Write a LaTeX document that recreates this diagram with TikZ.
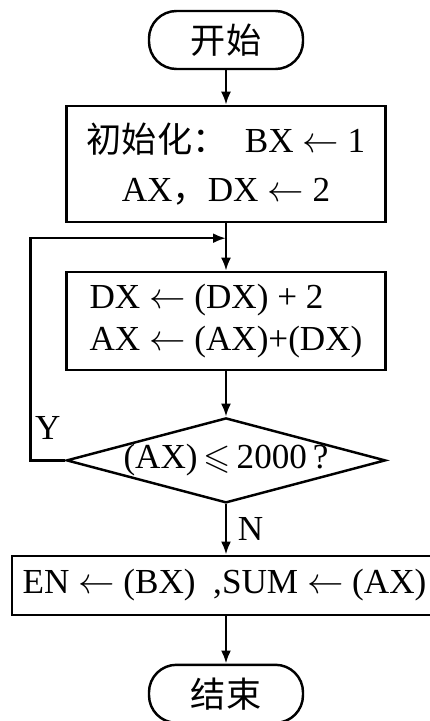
\documentclass[tikz,border=0pt]{standalone}
\usepackage{amssymb}
\usepackage{fontspec}
\setmainfont{Liberation Serif}
\newfontfamily\cjk{Noto Sans CJK SC}
\usetikzlibrary{arrows.meta,positioning,shapes.geometric}

\begin{document}
\begin{tikzpicture}[
      node distance=1cm,
      line width=1.4pt,
      term/.style={draw, rounded corners=0.55cm, minimum width=3.08cm, minimum height=1.16cm, font=\cjk\fontsize{20}{22}\selectfont},
      box/.style={draw, minimum width=6.38cm, align=center, font=\fontsize{20}{24}\selectfont},
      test/.style={draw, diamond, aspect=3.75, inner sep=0pt, minimum width=6.38cm, minimum height=1.7cm, font=\fontsize{20}{22}\selectfont},
      lbl/.style={font=\fontsize{20}{22}\selectfont, inner sep=2pt},
      arr/.style={-{Latex[length=2.6mm,width=2mm]}}
    ]
      \useasboundingbox (0,0) rectangle (8.6,-14.42);
      \node[term] (start) at (4.52,-0.8) {开始};
      \node[box, minimum height=2.32cm, below=0.69cm of start] (init) {{\cjk 初始化：}\enspace BX $\leftarrow$ 1\\[4pt] AX{\cjk ，}DX $\leftarrow$\ 2};
      \node[box, minimum height=1.96cm, align=left, below=0.95cm of init] (upd) {DX\ $\leftarrow$ (DX) + 2\\AX\ $\leftarrow$ (AX)+(DX)};
      \node[test, below=0.91cm of upd] (cmp) {\makebox[3.6cm]{(AX)\,$\leqslant$\,2000\,?}};
      \node[box, minimum width=8.5cm, minimum height=1.18cm, below=1.01cm of cmp, xshift=-0.03cm] (out) {EN $\leftarrow$ (BX)\ \ ,SUM $\leftarrow$ (AX)};
      \node[term, below=0.95cm of out, xshift=0.03cm] (stop) {结束};
      \coordinate[below=0.3cm of init] (join);

      \draw[arr] (start) -- (init);
      \draw[arr] (init) -- (upd);
      \draw[arr] (upd) -- (cmp);
      \draw[arr] (cmp.west) -- ++(-0.7,0) node[lbl, above right, yshift=9pt] {Y} |- (join);
      \draw[arr] (cmp.south) -- node[lbl, right, xshift=4pt] {N} (cmp.south |- out.north);
      \draw[arr] (out.south -| stop) -- (stop);
    \end{tikzpicture}
\end{document}
